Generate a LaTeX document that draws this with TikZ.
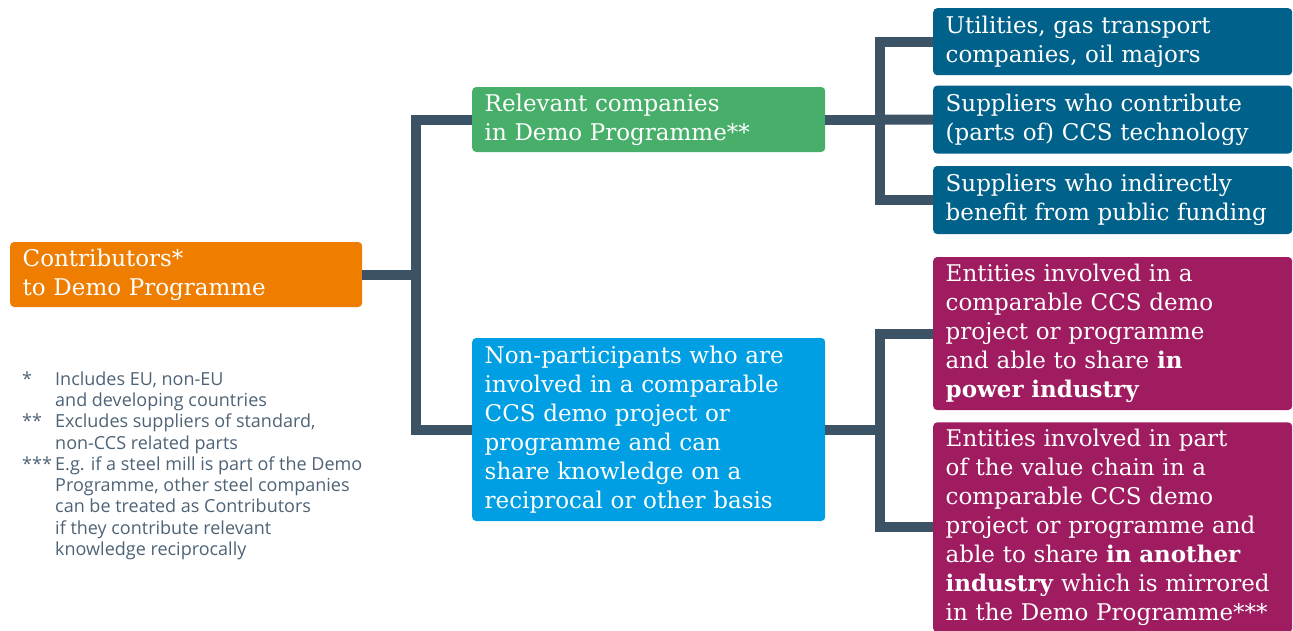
\documentclass[tikz,border=0pt]{standalone}
\usepackage{fontspec}
\setmainfont{DejaVu Serif}
\newfontfamily\notefont{Open Sans}
\usetikzlibrary{positioning}

\definecolor{contribOrange}{RGB}{238,125,0}
\definecolor{relGreen}{RGB}{72,175,106}
\definecolor{nonBlue}{RGB}{0,159,227}
\definecolor{supDark}{RGB}{0,97,138}
\definecolor{entMagenta}{RGB}{158,28,95}
\definecolor{linkSlate}{RGB}{60,83,102}
\definecolor{noteGrey}{RGB}{78,99,118}

\begin{document}
\begin{tikzpicture}[x=1pt,y=-1pt,
    box/.style={rounded corners=4pt, text=white, align=left, inner xsep=12.5pt,
                inner ysep=5pt, font=\fontsize{23}{29}\selectfont},
    midbox/.style={box, text width=328pt},
    sidebox/.style={box, text width=334pt},
    link/.style={draw=linkSlate, line width=10pt, line join=miter},
    note/.style={text=noteGrey, inner sep=0pt, font=\notefont\fontsize{18}{21.3}\selectfont}]
  \useasboundingbox (0,0) rectangle (1293,630);

  % left and middle column
  \node[box, fill=contribOrange, text width=327pt, minimum height=65pt, anchor=west]
       (contrib) at (10,274.5) {Contributors*\\to Demo Programme};
  \node[midbox, fill=relGreen, minimum height=65pt, anchor=west]
       (relevant) at (472,119.5) {Relevant companies\\in Demo Programme**};
  \node[midbox, fill=nonBlue, minimum height=183pt, anchor=west]
       (nonpart) at (472,429.5) {Non-participants who are\\involved in a comparable\\CCS demo project or\\programme and can\\share knowledge on a\\reciprocal or other basis};

  % right column
  \node[sidebox, fill=supDark, minimum height=67pt, anchor=north west]
       (util) at (933,8) {Utilities, gas transport\\companies, oil majors};
  \node[sidebox, fill=supDark, minimum height=68pt, below=10pt of util]
       (tech) {Suppliers who contribute\\(parts of) CCS technology};
  \node[sidebox, fill=supDark, minimum height=68pt, below=12pt of tech]
       (indirect) {Suppliers who indirectly\\benefit from public funding};
  \node[sidebox, fill=entMagenta, minimum height=153pt, anchor=west]
       (power) at (933,333.5) {Entities involved in a\\comparable CCS demo\\project or programme\\and able to share \textbf{in}\\\textbf{power industry}};
  \node[sidebox, fill=entMagenta, minimum height=210pt, below=12pt of power]
       (chain) {Entities involved in part\\of the value chain in a\\comparable CCS demo\\project or programme and\\able to share \textbf{in another}\\\textbf{industry} which is mirrored\\in the Demo Programme***};

  % connectors
  \draw[link] (contrib.east) -- ++(54,0) coordinate (fork1);
  \draw[link] (relevant.west) -| (fork1) |- (nonpart.west);
  \draw[link] (relevant.east) -- ++(55,0) coordinate (fork2);
  \draw[link] (util.west) -| (fork2) |- (indirect.west);
  \draw[link] (fork2) -- (tech.west);
  \draw[link] (nonpart.east) -- ++(55,0) coordinate (fork3);
  \draw[link] (power.west) -| (fork3) |- (chain.west);

  % footnotes
  \node[note, anchor=north west] (notes) at (22,370) {%
    \begin{tabular}{@{}p{33pt}@{}l@{}}
      {*}   & Includes EU, non-EU\\
            & and developing countries\\
      {**}  & Excludes suppliers of standard,\\
            & non-CCS related parts\\
      {***} & E.g. if a steel mill is part of the Demo\\
            & Programme, other steel companies\\
            & can be treated as Contributors\\
            & if they contribute relevant\\
            & knowledge reciprocally
    \end{tabular}};
\end{tikzpicture}
\end{document}
